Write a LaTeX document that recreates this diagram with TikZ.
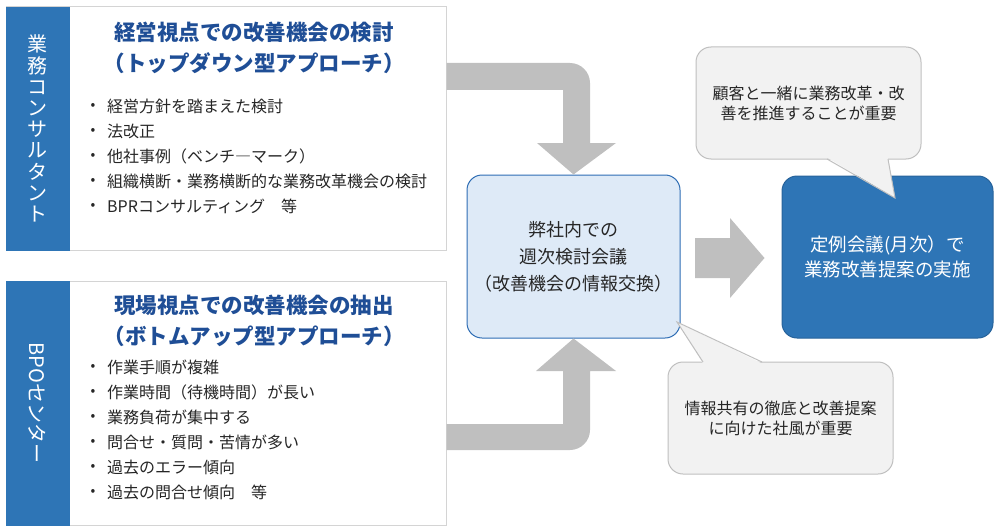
\documentclass[tikz,border=0pt]{standalone}
\usepackage{fontspec}
\setmainfont{Noto Sans CJK JP}
\usetikzlibrary{calc}
\definecolor{bandblue}{HTML}{2E75B6}
\definecolor{titleblue}{HTML}{1F4E96}
\definecolor{boxline}{HTML}{D4D4D4}
\definecolor{arrowgray}{HTML}{BFBFBF}
\definecolor{midfill}{HTML}{DEEAF7}
\definecolor{midline}{HTML}{2E6DB4}
\definecolor{callfill}{HTML}{F2F2F2}
\definecolor{callline}{HTML}{BFBFBF}
\definecolor{itemtext}{HTML}{262626}
\tikzset{
  panel/.style={draw=boxline, line width=1pt, fill=white, minimum width=440pt, inner sep=0pt},
  band/.style={fill=bandblue, draw=bandblue, minimum width=63pt, inner sep=0pt},
  bandtext/.style={text=white, align=center, inner sep=0pt, font=\fontsize{20}{21.2}\selectfont},
  paneltitle/.style={text=titleblue, align=center, inner sep=0pt, font=\fontsize{21.5}{31}\selectfont\bfseries},
  bulletmark/.style={text=itemtext, inner sep=0pt, font=\fontsize{14}{16}\selectfont},
  itemline/.style={text=itemtext, anchor=west, inner sep=0pt, font=\fontsize{16}{18}\selectfont},
  midbox/.style={draw=midline, line width=1pt, fill=midfill, rounded corners=15pt, minimum width=213pt, minimum height=163pt, align=center, text=itemtext, font=\fontsize{18}{27}\selectfont},
  resultbox/.style={draw=bandblue!85!black, line width=1pt, fill=bandblue, rounded corners=15pt, minimum width=211pt, minimum height=162pt, align=center, text=white, font=\fontsize{18.5}{25}\selectfont},
  callout/.style={draw=callline, line width=1pt, fill=callfill, rounded corners=15pt, minimum width=225pt, minimum height=112pt, align=center, text=itemtext, font=\fontsize{16}{20}\selectfont},
}
\begin{document}
\begin{tikzpicture}[x=1pt,y=-1pt]
\useasboundingbox (0,0) rectangle (1000,532);

% panels
\node[panel, minimum height=243pt] (top) at (226,128.5) {};
\node[band, minimum height=243pt, anchor=west] (topband) at (top.west) {};
\node[bandtext] (toplabel) at (topband.center) {業\\務\\コ\\ン\\サ\\ル\\タ\\ン\\ト};
\node[paneltitle] (toptitle) at (254,47.5) {経営視点での改善機会の検討\\（トップダウン型アプローチ）};

\node[panel, minimum height=244pt] (bot) at (226,403) {};
\node[band, minimum height=244pt, anchor=west] (botband) at (bot.west) {};
\node[bandtext, rotate=-90] (botlabel) at (botband.center) {BPOセンター};
\node[paneltitle] (bottitle) at (254,321) {現場視点での改善機会の抽出\\（ボトムアップ型アプローチ）};

% bullet items (top)
\foreach \y/\t [count=\i] in {106/経営方針を踏まえた検討, 131/法改正, 156/他社事例（ベンチ―マーク）, 181/組織横断・業務横断的な業務改革機会の検討, 206/BPRコンサルティング\hspace{1em}等}{
  \node[bulletmark] (tb\i) at (93,\y) {•};
  \node[itemline] (ti\i) at (107,\y) {\t};
}
% bullet items (bottom)
\foreach \y/\t [count=\i] in {367/作業手順が複雑, 392/作業時間（待機時間）が長い, 417/業務負荷が集中する, 442/問合せ・質問・苦情が多い, 467/過去のエラー傾向, 492/過去の問合せ傾向\hspace{1em}等}{
  \node[bulletmark] (bb\i) at (93,\y) {•};
  \node[itemline] (bi\i) at (107,\y) {\t};
}

% middle and result boxes
\node[midbox] (mid) at (573.5,256.5) {弊社内での\\週次検討会議\\（改善機会の情報交換）};
\node[resultbox] (res) at (887.5,257) {定例会議(月次）で\\業務改善提案の実施};

% big gray arrows
\fill[arrowgray] (top.east |- 0,63) -- (570,63) .. controls (581,63) and (590,72) .. (590,83)
  -- (590,143) -- (616,143) -- (mid.north) -- (537,143) -- (563,143) -- (563,90) -- (top.east |- 0,90) -- cycle;
\fill[arrowgray] (bot.east |- 0,450) -- (570,450) .. controls (581,450) and (590,441) .. (590,430)
  -- (590,371) -- (616,371) -- (mid.south) -- (536,371) -- (563,371) -- (563,424) -- (bot.east |- 0,424) -- cycle;
\coordinate (ratip) at ($(res.west |- 0,258)+(-17,0)$);
\fill[arrowgray] (695,238) -- (730,238) -- (730,218) -- (ratip) -- (730,298) -- (730,278) -- (695,278) -- cycle;

% callouts
\node[callout] (c1) at (808.5,103) {顧客と一緒に業務改革・改\\善を推進することが重要};
\coordinate (c1a) at (827,159);
\coordinate (c1b) at (888,159);
\coordinate (c1tip) at (895,198);
\fill[callfill] ($(c1a)+(0,-1.5)$) -- (c1tip) -- ($(c1b)+(0,-1.5)$) -- cycle;
\draw[callline, line width=1pt, line join=miter] (c1a) -- (c1tip) -- (c1b);

\node[callout] (c2) at (780.5,418) {情報共有の徹底と改善提案\\に向けた社風が重要};
\coordinate (c2a) at (703,362);
\coordinate (c2b) at (762,362);
\coordinate (c2tip) at (677,322);
\fill[callfill] ($(c2a)+(0,1.5)$) -- (c2tip) -- ($(c2b)+(0,1.5)$) -- cycle;
\draw[callline, line width=1pt, line join=miter] (c2a) -- (c2tip) -- (c2b);
\end{tikzpicture}
\end{document}
